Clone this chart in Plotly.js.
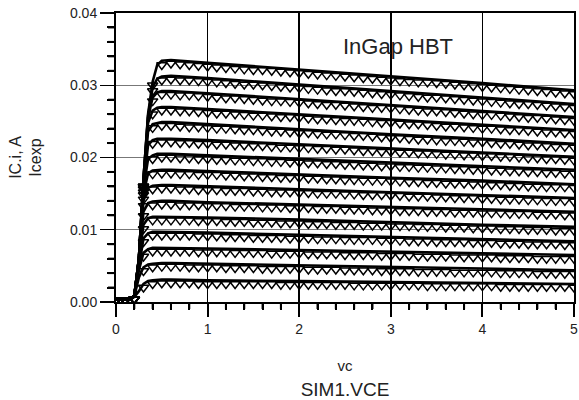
<!DOCTYPE html>
<html><head><meta charset="utf-8">
<script src="https://cdn.plot.ly/plotly-3.0.1.min.js"></script>
<style>html,body{margin:0;padding:0;background:#fff;}#chart{width:579px;height:400px;}</style>
</head><body><div id="chart"></div>
<script>
// Simulated collector current IC.i (mA) at these VCE knots (V)
const vceSim = [0, 0.15, 0.2, 0.25, 0.3, 0.35, 0.4, 0.45, 0.5, 0.6, 1, 2, 3, 4, 5];
const sim01 = [0.4,0.4,0.7,1.5,2.5,2.9,3.0,3.1,3.1,3.1,3.0,2.9,2.8,2.6,2.5];
const sim02 = [0.4,0.4,0.8,3.4,4.8,5.2,5.3,5.4,5.4,5.4,5.3,5.1,4.9,4.6,4.4];
const sim03 = [0.4,0.4,0.8,4.4,6.8,7.3,7.5,7.5,7.5,7.5,7.4,7.2,7.0,6.7,6.5];
const sim04 = [0.4,0.4,0.8,5.0,8.8,9.5,9.7,9.7,9.7,9.7,9.6,9.3,9.0,8.7,8.4];
const sim05 = [0.4,0.4,0.8,5.4,10.7,11.6,11.8,11.8,11.8,11.8,11.7,11.4,11.0,10.7,10.4];
const sim06 = [0.4,0.4,0.8,5.6,12.5,13.7,13.9,14.0,14.0,14.0,13.8,13.5,13.2,12.8,12.5];
const sim07 = [0.4,0.4,0.8,5.7,14.0,15.8,16.1,16.2,16.2,16.2,16.0,15.6,15.2,14.8,14.4];
const sim08 = [0.4,0.4,0.8,5.8,15.0,17.8,18.2,18.3,18.3,18.3,18.1,17.7,17.2,16.8,16.3];
const sim09 = [0.4,0.4,0.8,5.9,15.7,19.8,20.3,20.5,20.5,20.5,20.3,19.8,19.3,18.8,18.3];
const sim10 = [0.4,0.4,0.8,6.0,16.2,21.7,22.4,22.6,22.6,22.6,22.4,21.8,21.2,20.7,20.1];
const sim11 = [0.4,0.4,0.8,6.0,16.6,23.6,24.6,24.8,24.9,24.9,24.6,23.9,23.2,22.6,21.9];
const sim12 = [0.4,0.4,0.8,6.0,16.8,24.8,26.5,26.9,27.0,27.0,26.7,26.0,25.3,24.5,23.8];
const sim13 = [0.4,0.4,0.8,6.0,17.0,25.5,28.3,29.0,29.2,29.2,28.9,28.1,27.2,26.4,25.6];
const sim14 = [0.4,0.4,0.8,6.0,17.0,25.8,29.7,30.9,31.2,31.3,31.0,30.1,29.2,28.3,27.4];
const sim15 = [0.4,0.4,0.8,6.0,17.0,26.0,30.5,32.8,33.4,33.5,33.1,32.2,31.2,30.3,29.3];

// Measured collector current Icexp (mA) at these VCE points (V)
const vceMeas = [0,0.1,0.2,0.3,0.4,0.5,0.6,0.7,0.8,0.9,1.0,1.1,1.2,1.3,1.4,1.5,1.6,1.7,1.8,1.9,2.0,2.1,2.2,2.3,2.4,2.5,2.6,2.7,2.8,2.9,3.0,3.1,3.2,3.3,3.4,3.5,3.6,3.7,3.8,3.9,4.0,4.1,4.2,4.3,4.4,4.5,4.6,4.7,4.8,4.9,5.0];
const meas01 = [0.2,0.2,0.4,2.0,2.5,2.6,2.6,2.6,2.6,2.5,2.5,2.5,2.5,2.5,2.5,2.5,2.5,2.5,2.4,2.4,2.4,2.4,2.4,2.4,2.4,2.4,2.3,2.3,2.3,2.3,2.3,2.3,2.3,2.3,2.2,2.2,2.2,2.2,2.2,2.2,2.2,2.2,2.1,2.1,2.1,2.1,2.1,2.1,2.1,2.1,2.0];
const meas02 = [0.2,0.2,0.4,4.3,4.8,4.9,4.9,4.9,4.8,4.8,4.8,4.8,4.7,4.7,4.7,4.7,4.6,4.6,4.6,4.6,4.6,4.5,4.5,4.5,4.5,4.4,4.4,4.4,4.4,4.3,4.3,4.3,4.3,4.2,4.2,4.2,4.2,4.1,4.1,4.1,4.1,4.1,4.0,4.0,4.0,4.0,3.9,3.9,3.9,3.9,3.9];
const meas03 = [0.2,0.2,0.4,6.3,7.0,7.0,7.0,7.0,7.0,6.9,6.9,6.9,6.9,6.8,6.8,6.8,6.8,6.7,6.7,6.7,6.7,6.6,6.6,6.6,6.6,6.5,6.5,6.5,6.5,6.4,6.4,6.4,6.4,6.3,6.3,6.3,6.3,6.2,6.2,6.2,6.2,6.2,6.1,6.1,6.1,6.1,6.0,6.0,6.0,6.0,6.0];
const meas04 = [0.2,0.2,0.4,8.3,9.2,9.2,9.2,9.2,9.2,9.1,9.1,9.1,9.0,9.0,9.0,8.9,8.9,8.9,8.9,8.8,8.8,8.8,8.7,8.7,8.7,8.6,8.6,8.6,8.6,8.5,8.5,8.5,8.4,8.4,8.4,8.3,8.3,8.3,8.3,8.2,8.2,8.2,8.1,8.1,8.1,8.0,8.0,8.0,8.0,7.9,7.9];
const meas05 = [0.2,0.2,0.4,10.1,11.3,11.3,11.3,11.3,11.3,11.2,11.2,11.2,11.1,11.1,11.1,11.0,11.0,11.0,10.9,10.9,10.9,10.8,10.8,10.8,10.7,10.7,10.7,10.6,10.6,10.6,10.5,10.5,10.5,10.4,10.4,10.4,10.3,10.3,10.3,10.2,10.2,10.2,10.1,10.1,10.1,10.0,10.0,10.0,9.9,9.9,9.9];
const meas06 = [0.2,0.2,0.4,11.9,13.4,13.5,13.5,13.4,13.4,13.4,13.3,13.3,13.3,13.2,13.2,13.2,13.1,13.1,13.1,13.0,13.0,13.0,12.9,12.9,12.9,12.8,12.8,12.8,12.7,12.7,12.7,12.6,12.6,12.6,12.5,12.5,12.5,12.4,12.4,12.4,12.3,12.3,12.3,12.2,12.2,12.2,12.1,12.1,12.1,12.0,12.0];
const meas07 = [0.2,0.2,0.4,13.3,15.6,15.7,15.7,15.6,15.6,15.5,15.5,15.5,15.4,15.4,15.4,15.3,15.3,15.2,15.2,15.2,15.1,15.1,15.0,15.0,15.0,14.9,14.9,14.8,14.8,14.8,14.7,14.7,14.6,14.6,14.6,14.5,14.5,14.4,14.4,14.4,14.3,14.3,14.2,14.2,14.2,14.1,14.1,14.0,14.0,14.0,13.9];
const meas08 = [0.2,0.2,0.4,14.2,17.7,17.8,17.8,17.7,17.7,17.6,17.6,17.6,17.5,17.5,17.4,17.4,17.3,17.3,17.2,17.2,17.2,17.1,17.1,17.0,17.0,16.9,16.9,16.8,16.8,16.8,16.7,16.7,16.6,16.6,16.5,16.5,16.4,16.4,16.4,16.3,16.3,16.2,16.2,16.1,16.1,16.0,16.0,15.9,15.9,15.9,15.8];
const meas09 = [0.2,0.2,0.4,14.8,19.8,20.0,20.0,19.9,19.9,19.8,19.8,19.7,19.7,19.6,19.6,19.5,19.5,19.4,19.4,19.3,19.3,19.2,19.2,19.1,19.1,19.0,19.0,18.9,18.9,18.8,18.8,18.7,18.7,18.6,18.6,18.5,18.5,18.4,18.4,18.3,18.3,18.2,18.2,18.1,18.1,18.0,18.0,17.9,17.9,17.8,17.8];
const meas10 = [0.2,0.2,0.4,15.2,21.9,22.1,22.1,22.0,22.0,21.9,21.9,21.8,21.8,21.7,21.7,21.6,21.6,21.5,21.4,21.4,21.3,21.3,21.2,21.2,21.1,21.1,21.0,20.9,20.9,20.8,20.8,20.7,20.7,20.6,20.6,20.5,20.4,20.4,20.3,20.3,20.2,20.2,20.1,20.1,20.0,19.9,19.9,19.8,19.8,19.7,19.6];
const meas11 = [0.2,0.2,0.4,15.6,24.1,24.4,24.4,24.3,24.2,24.2,24.1,24.0,24.0,23.9,23.8,23.8,23.7,23.6,23.6,23.5,23.4,23.4,23.3,23.2,23.2,23.1,23.0,23.0,22.9,22.8,22.7,22.7,22.6,22.5,22.5,22.4,22.3,22.3,22.2,22.1,22.1,22.0,21.9,21.9,21.8,21.7,21.7,21.6,21.5,21.5,21.4];
const meas12 = [0.2,0.2,0.4,15.8,26.0,26.5,26.5,26.4,26.4,26.3,26.2,26.1,26.1,26.0,25.9,25.8,25.8,25.7,25.6,25.6,25.5,25.4,25.3,25.3,25.2,25.1,25.1,25.0,24.9,24.8,24.8,24.7,24.6,24.6,24.5,24.4,24.3,24.3,24.2,24.1,24.0,24.0,23.9,23.8,23.8,23.7,23.6,23.5,23.5,23.4,23.3];
const meas13 = [0.2,0.2,0.4,16.0,27.8,28.7,28.7,28.6,28.6,28.5,28.4,28.3,28.2,28.2,28.1,28.0,27.9,27.8,27.8,27.7,27.6,27.5,27.4,27.3,27.3,27.2,27.1,27.0,26.9,26.9,26.8,26.7,26.6,26.5,26.4,26.4,26.3,26.2,26.1,26.0,25.9,25.9,25.8,25.7,25.6,25.5,25.5,25.4,25.3,25.2,25.1];
const meas14 = [0.2,0.2,0.4,16.0,29.2,30.7,30.8,30.7,30.7,30.6,30.5,30.4,30.3,30.2,30.1,30.1,30.0,29.9,29.8,29.7,29.6,29.5,29.4,29.3,29.2,29.2,29.1,29.0,28.9,28.8,28.7,28.6,28.5,28.4,28.3,28.3,28.2,28.1,28.0,27.9,27.8,27.7,27.6,27.5,27.4,27.4,27.3,27.2,27.1,27.0,26.9];
const meas15 = [0.2,0.2,0.4,16.0,30.0,32.8,33.0,32.9,32.8,32.7,32.6,32.5,32.4,32.3,32.2,32.1,32.1,32.0,31.9,31.8,31.7,31.6,31.5,31.4,31.3,31.2,31.1,31.0,30.9,30.8,30.7,30.6,30.5,30.4,30.4,30.3,30.2,30.1,30.0,29.9,29.8,29.7,29.6,29.5,29.4,29.3,29.2,29.1,29.0,28.9,28.8];

// Minor tick positions (axis units)
const xMinorTicks = [0.2,0.4,0.6,0.8,1.2,1.4,1.6,1.8,2.2,2.4,2.6,2.8,3.2,3.4,3.6,3.8,4.2,4.4,4.6,4.8];
const yMinorTicks = [0.002,0.004,0.006,0.008,0.012,0.014,0.016,0.018,0.022,0.024,0.026,0.028,0.032,0.034,0.036,0.038];

const simSeries = [sim01,sim02,sim03,sim04,sim05,sim06,sim07,sim08,sim09,sim10,sim11,sim12,sim13,sim14,sim15];
const measSeries = [meas01,meas02,meas03,meas04,meas05,meas06,meas07,meas08,meas09,meas10,meas11,meas12,meas13,meas14,meas15];

const toA = a => a.map(v => v / 1000);
const traces = [];
measSeries.forEach(m => traces.push({
  type: 'scatter', mode: 'markers', x: vceMeas, y: toA(m), showlegend: false, hoverinfo: 'skip',
  marker: {symbol: 'triangle-down-open', size: 9, color: '#000', line: {width: 1.5, color: '#000'}}
}));
simSeries.forEach(s => traces.push({
  type: 'scatter', mode: 'lines', x: vceSim, y: toA(s), showlegend: false, hoverinfo: 'skip',
  line: {color: '#000', width: 2.6}
}));

// minor ticks as short shapes hanging outside the axes
const shapes = [];
xMinorTicks.forEach(v => shapes.push({
  type: 'line', xref: 'x', yref: 'paper', ysizemode: 'pixel', yanchor: 0, x0: v, x1: v, y0: -1, y1: -7,
  line: {color: '#000', width: 2}
}));
yMinorTicks.forEach(v => shapes.push({
  type: 'line', xref: 'paper', yref: 'y', xsizemode: 'pixel', xanchor: 0, y0: v, y1: v, x0: -1, x1: -8,
  line: {color: '#000', width: 2}
}));

const font = 'Liberation Sans, Arial, sans-serif';
const layout = {
  width: 579, height: 400,
  margin: {l: 116, r: 5, t: 13, b: 98},
  paper_bgcolor: '#fff', plot_bgcolor: '#fff',
  font: {family: font, color: '#222', size: 14},
  showlegend: false,
  xaxis: {
    range: [0, 5], tick0: 0, dtick: 1, ticks: 'outside', ticklen: 13, tickwidth: 2, tickcolor: '#000',
    minor: {dtick: 0.2, ticks: 'outside', ticklen: 6, tickwidth: 2, tickcolor: '#000', showgrid: false},
    showgrid: true, gridcolor: '#000', gridwidth: 1.5,
    showline: true, linecolor: '#000', linewidth: 2, mirror: true, zeroline: false,
    tickfont: {size: 14, family: font, color: '#222'},
    title: {text: '<span style="font-size:15px">vc</span><br>SIM1.VCE', font: {size: 19, family: font, color: '#222'}, standoff: 24}
  },
  yaxis: {
    range: [0, 0.04], tick0: 0, dtick: 0.01, tickformat: '.2f', ticks: 'outside', ticklen: 14, tickwidth: 1.2, tickcolor: '#000',
    minor: {dtick: 0.002, ticks: 'outside', ticklen: 7, tickwidth: 2, tickcolor: '#000', showgrid: false},
    showgrid: true, gridcolor: '#555', gridwidth: 0.8,
    showline: true, linecolor: '#000', linewidth: 2, mirror: true, zeroline: false,
    tickfont: {size: 14, family: font, color: '#222'},
    title: {text: 'IC.i, A<br>Icexp', font: {size: 16, family: font, color: '#222'}, standoff: 24}
  },
  shapes: shapes,
  annotations: [{
    text: 'InGap HBT', x: 3.08, y: 0.0354, xref: 'x', yref: 'y', showarrow: false,
    font: {size: 22, family: font, color: '#222'}
  }]
};
Plotly.newPlot('chart', traces, layout, {displayModeBar: false, staticPlot: true});
</script>
</body></html>
